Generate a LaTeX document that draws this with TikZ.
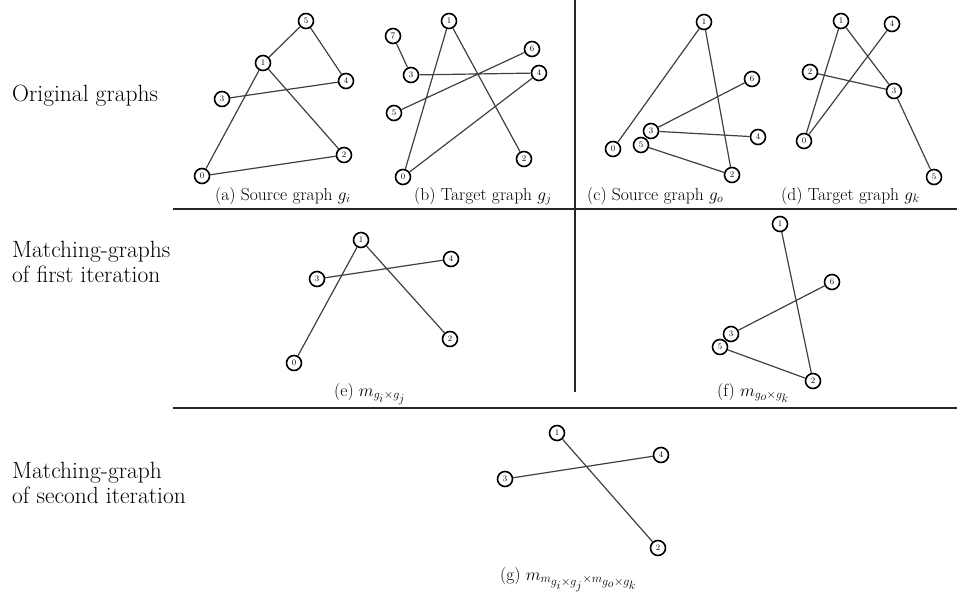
\documentclass[tikz,border=0pt]{standalone}
\usepackage{amsmath}
\begin{document}
\begin{tikzpicture}[x=1pt,y=-1pt,
  vtx/.style={circle,draw=black,line width=1.6pt,fill=white,minimum size=15pt,inner sep=0pt,font=\fontsize{8.5}{8.5}\selectfont},
  edge/.style={draw=black!75,line width=1.2pt},
  sep/.style={draw=black!85,line width=1.6pt},
  subcap/.style={anchor=base west,font=\fontsize{17.5}{20}\selectfont,inner sep=0pt},
  rowlab/.style={anchor=base west,align=left,font=\fontsize{23.5}{24.5}\selectfont,inner sep=0pt}]
\useasboundingbox (0,0) rectangle (957,596);
% separators
\coordinate (t1) at (575,0); \coordinate (t2) at (575,209);
\coordinate (h1a) at (173,209); \coordinate (h1b) at (957,209);
\coordinate (m2) at (575,392);
\coordinate (h2a) at (173,408); \coordinate (h2b) at (957,408);
\draw[sep] (t1) -- (t2);
\draw[sep] (h1a) -- (h1b);
\draw[sep] (t2) -- (m2);
\draw[sep] (h2a) -- (h2b);
% row labels
\node[rowlab] (l1) at (12,102) {Original graphs};
\node[rowlab] (l2) at (12,282) {Matching-graphs\\of first iteration};
\node[rowlab] (l3) at (12,503) {Matching-graph\\of second iteration};
% (a)
\node[vtx] (a5) at (306,21) {5};
\node[vtx] (a1) at (263,63) {1};
\node[vtx] (a4) at (346,81) {4};
\node[vtx] (a3) at (222,99) {3};
\node[vtx] (a2) at (344,155) {2};
\node[vtx] (a0) at (202,176) {0};
\draw[edge] (a5)--(a1) (a5)--(a4) (a1)--(a0) (a1)--(a2) (a3)--(a4) (a0)--(a2);
\node[subcap] (ca) at (215,200) {(a) Source graph $g_i$};
% (b)
\node[vtx] (b1) at (449,21) {1};
\node[vtx] (b7) at (393,36) {7};
\node[vtx] (b6) at (532,49) {6};
\node[vtx] (b3) at (411,75) {3};
\node[vtx] (b4) at (539,73) {4};
\node[vtx] (b5) at (394,113) {5};
\node[vtx] (b2) at (524,159) {2};
\node[vtx] (b0) at (403,177) {0};
\draw[edge] (b7)--(b3) (b3)--(b4) (b1)--(b0) (b1)--(b2) (b6)--(b5) (b4)--(b0);
\node[subcap] (cb) at (414,200) {(b) Target graph $g_j$};
% (c)
\node[vtx] (c1) at (704,22) {1};
\node[vtx] (c6) at (752,79) {6};
\node[vtx] (c4) at (758,137) {4};
\node[vtx] (c0) at (613,149) {0};
\node[vtx] (c5) at (641,145) {5};
\node[vtx] (c3) at (651,131) {3};
\node[vtx] (c2) at (732,175) {2};
\draw[edge] (c1)--(c0) (c1)--(c2) (c6)--(c3) (c3)--(c4) (c5)--(c2);
\node[subcap] (cc) at (587,200) {(c) Source graph $g_o$};
% (d)
\node[vtx] (d1) at (841,21) {1};
\node[vtx] (d4) at (892,24) {4};
\node[vtx] (d2) at (810,72) {2};
\node[vtx] (d3) at (894,91) {3};
\node[vtx] (d0) at (804,141) {0};
\node[vtx] (d5) at (934,177) {5};
\draw[edge] (d1)--(d0) (d1)--(d3) (d4)--(d0) (d2)--(d3) (d3)--(d5);
\node[subcap] (cd) at (781,200) {(d) Target graph $g_k$};
% (e)
\node[vtx] (e1) at (361,240) {1};
\node[vtx] (e4) at (451,259) {4};
\node[vtx] (e3) at (317,279) {3};
\node[vtx] (e2) at (450,339) {2};
\node[vtx] (e0) at (294,363) {0};
\draw[edge] (e1)--(e0) (e1)--(e2) (e3)--(e4);
\node[subcap] (ce) at (334,396) {(e) $m_{g_{\scriptstyle i}\times g_{\scriptstyle j}}$};
% (f)
\node[vtx] (f1) at (780,224) {1};
\node[vtx] (f6) at (832,282) {6};
\node[vtx] (f5) at (720,347) {5};
\node[vtx] (f3) at (731,334) {3};
\node[vtx] (f2) at (813,381) {2};
\draw[edge] (f1)--(f2) (f6)--(f3) (f5)--(f2);
\node[subcap] (cf) at (717,396) {(f) $m_{g_{\scriptstyle o}\times g_{\scriptstyle k}}$};
% (g)
\node[vtx] (g1) at (557,433) {1};
\node[vtx] (g4) at (661,455) {4};
\node[vtx] (g3) at (505,479) {3};
\node[vtx] (g2) at (658,548) {2};
\draw[edge] (g1)--(g2) (g3)--(g4);
\node[subcap] (cg) at (500,580) {(g) $m_{m_{\scriptstyle g_{\scriptstyle i}\times g_{\scriptstyle j}}\times m_{\scriptstyle g_{\scriptstyle o}\times g_{\scriptstyle k}}}$};
\end{tikzpicture}
\end{document}
